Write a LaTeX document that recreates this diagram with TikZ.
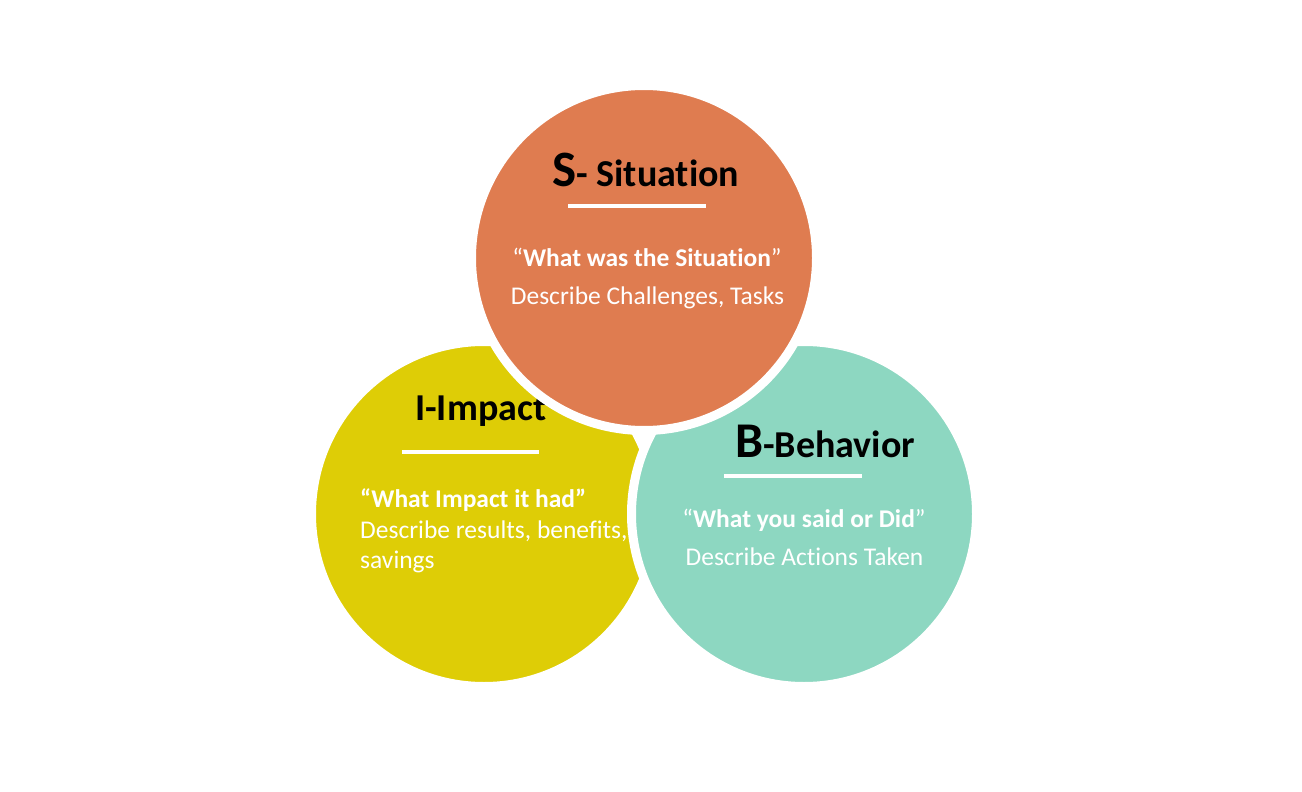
\documentclass[tikz,border=0pt]{standalone}
\usepackage{fontspec}
\setmainfont{Carlito}[Ligatures=NoCommon]
\definecolor{sOrange}{RGB}{223,124,80}
\definecolor{iYellow}{RGB}{222,205,6}
\definecolor{bTeal}{RGB}{141,215,193}
\tikzset{
  bubble/.style={circle, draw=white, line width=9pt, minimum size=345pt, inner sep=0pt},
  rule/.style={draw=white, line width=4pt},
  head/.style={inner sep=0pt, text=black, font=\bfseries},
  quote/.style={inner sep=0pt, text=white, font=\fontsize{25.5}{30}\selectfont\bfseries},
  desc/.style={inner sep=0pt, text=white, font=\fontsize{25.5}{30}\selectfont},
}
\begin{document}
\begin{tikzpicture}[x=1pt,y=-1pt]
\useasboundingbox[fill=white] (0,0) rectangle (1302,792);
% Impact (bottom layer)
\node[bubble, fill=iYellow] (I) at (484,514) {};
\node[head, anchor=base west] (Ih) at (415,420) {\fontsize{38}{40}\selectfont I-Impact};
\coordinate (Ia) at (402,452); \coordinate (Ib) at (539,452);
\draw[rule] (Ia) -- (Ib);
\node[quote, anchor=base west] (Iq) at (360,507) {“What Impact it had”};
\node[desc, anchor=base west] (Id1) at (360,538) {Describe results, benefits,};
\node[desc, anchor=base west] (Id2) at (360,568) {savings};
% Behavior
\node[bubble, fill=bTeal] (B) at (804,514) {};
\node[head, anchor=base west] (Bh) at (735,457) {{\fontsize{50}{52}\selectfont B}{\fontsize{38}{40}\selectfont -Behavior}};
\coordinate (Ba) at (724,476); \coordinate (Bb) at (862,476);
\draw[rule] (Ba) -- (Bb);
\node[quote, anchor=base] (Bq) at (804,527) {{\mdseries “}What you said or Did{\mdseries ”}};
\node[desc, anchor=base] (Bd) at (804.5,565) {Describe Actions Taken};
% Situation (top layer)
\node[bubble, fill=sOrange] (S) at (644,258) {};
\node[head, anchor=base west] (Sh) at (552,186) {{\fontsize{51}{52}\selectfont S}{\fontsize{38}{40}\selectfont - Situation}};
\coordinate (Sa) at (568,206); \coordinate (Sb) at (706,206);
\draw[rule] (Sa) -- (Sb);
\node[quote, anchor=base] (Sq) at (647,266) {{\mdseries “}What was the Situation{\mdseries ”}};
\node[desc, anchor=base] (Sd) at (647.5,304) {Describe Challenges, Tasks};
\end{tikzpicture}
\end{document}
